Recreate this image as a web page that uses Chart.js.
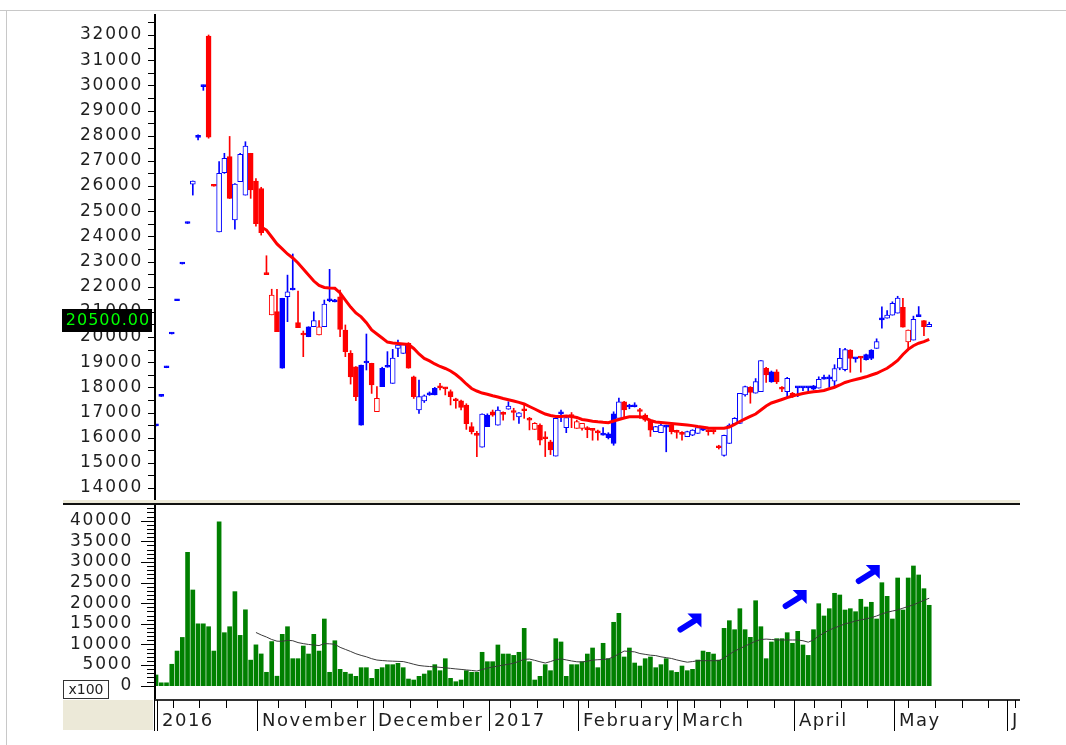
<!DOCTYPE html>
<html><head><meta charset="utf-8">
<script src="https://cdn.jsdelivr.net/npm/chart.js@4.4.1/dist/chart.umd.min.js"></script>
<style>
html,body{margin:0;padding:0;background:#fff;}
#wrap{position:relative;width:1066px;height:745px;overflow:hidden;background:#fff;}
#wrap canvas{position:absolute;left:0;top:0;}
.frameT{position:absolute;left:0;top:10px;width:1066px;height:1px;background:#c8c8c8;}
.frameL{position:absolute;left:6px;top:10px;width:1px;height:735px;background:#c8c8c8;}
</style></head><body>
<div id="wrap">
<div class="frameT"></div><div class="frameL"></div>
<canvas id="price" width="1066" height="745" style="width:1066px;height:745px"></canvas>
<canvas id="vol" width="1066" height="745" style="width:1066px;height:745px"></canvas>
</div>
<script>
// ---------------- data ----------------
const OPEN = [16470,17640,18780,20120,21440,22900,24510,26070,27930,29950,
31960,26030,24180,26530,27170,24650,26170,25640,27300,26200,
25900,22560,21670,21010,18760,21600,21870,20570,20140,20010,
20410,20410,20410,21440,21400,21600,20280,19350,18820,16500,
18970,18960,17560,18030,18800,18160,19550,19350,19750,18420,
17100,17460,17700,17700,18030,17990,17830,17530,17470,17300,
16440,16150,15620,16440,17030,16500,16990,17130,17060,16830,
17130,16760,16570,16500,16020,15840,15270,16950,16400,16900,
16640,16570,16380,16350,16250,16100,16000,15770,16770,17430,
17220,17230,17100,16900,16700,16240,16200,16420,16500,16270,
16190,16040,16100,16170,16300,16300,16300,15660,15300,15770,
16550,16570,17700,18000,17770,17830,18760,18220,18620,17990,
17830,17760,17980,17980,17980,17930,17970,18330,18340,18250,
18760,18700,19480,19130,19210,19100,19150,19550,20680,20750,
20870,20950,21180,20280,19880,20810,20650,20410];
const HIGH = [16530,17700,18840,20180,21500,22960,24570,26200,28030,30010,
32000,26030,26970,27300,27970,26100,27300,27760,27300,26300,
25950,23230,21900,21900,21540,22460,23300,21830,20240,20410,
21000,20650,21470,22690,21500,21870,20480,19460,18830,18890,
20120,18960,18030,18800,19420,19510,19880,19720,19780,18450,
18290,17700,17820,18000,18160,18000,17900,17570,17500,17350,
16600,16250,16950,16950,17100,17230,17030,17430,17170,17000,
17300,16810,16600,16550,16240,15900,16770,17100,16840,17000,
16700,16570,16440,16370,16300,16400,16200,17030,17570,17450,
17330,17390,17170,16950,16700,16450,16550,16500,16520,16300,
16240,16260,16320,16430,16370,16310,16310,15700,16100,16550,
16800,17760,18050,18030,18350,19060,18800,18650,18700,18030,
18400,17800,18020,18020,18020,18080,18420,18490,18490,18900,
19550,19550,19500,19170,19230,19320,19500,19930,21200,21050,
21400,21620,21540,20280,20830,21210,20650,20590];
const LOW = [16470,17640,18780,20120,21440,22900,24510,25640,27830,29800,
27900,25990,24180,26500,25500,24290,26170,25640,25510,24400,
24050,22480,20880,20210,18760,20610,21870,20370,19220,20010,
20410,20080,20410,21400,21400,20010,19220,18130,17470,16500,
18690,17760,17030,18030,18800,18160,19220,19350,18760,17560,
16970,17400,17680,17700,17900,17700,17300,17170,17100,16330,
16150,15250,15620,16440,16850,16500,16700,17130,16700,16570,
16770,16310,16330,15710,15250,15330,15270,16640,16200,16400,
16370,16300,16000,15900,15900,16100,15950,15700,16770,16800,
17150,17220,16770,16650,16050,16240,16200,15440,16150,15980,
15900,16040,16080,16170,16280,16100,16150,15550,15270,15770,
16550,16570,17650,17370,17770,17830,18200,18200,18150,17830,
17630,17600,17630,17870,17800,17900,17970,18330,18000,18000,
18700,18650,18600,19000,18600,19080,19100,19550,20350,20750,
20870,20950,20390,19480,19880,20810,20050,20410];
const CLOSE = [16530,17700,18840,20180,21500,22960,24570,26200,28010,30010,
27940,25990,26500,27100,25510,26080,27260,27590,25840,24500,
24150,22480,20880,20210,21540,21800,21930,20370,20080,20410,
20650,20080,21310,21500,21480,20300,19420,18420,17630,18890,
19030,18100,17030,18760,18860,19160,19680,19700,18760,17630,
17630,17660,17760,17960,17980,17940,17630,17470,17200,16560,
16240,16090,16940,16900,16900,17100,16930,17260,17000,16990,
17070,16700,16330,15900,15960,15510,16770,17010,16800,16840,
16370,16370,16320,16290,16190,16160,16150,16950,17430,17100,
17280,17290,17040,16700,16300,16440,16500,16480,16240,16210,
16130,16240,16300,16400,16360,16240,16240,15600,16090,16500,
16770,17760,18030,17800,18230,19060,18490,18620,18220,17930,
18360,17630,18020,18020,18020,18060,18320,18380,18390,18750,
19150,19500,19150,19170,19160,19300,19480,19820,20740,20870,
21340,21550,20390,19810,20700,20870,20410,20500];
const VOLUME = [2600,700,700,5200,8400,11700,32300,23200,15000,15000,
14300,8400,39700,12850,14300,22800,12200,18400,6200,9900,
7700,3250,10700,2300,12450,14300,6550,6550,9620,7680,
12450,8400,16170,3250,10900,3970,3250,2830,2270,4370,
4370,1780,3970,4370,5100,5100,5420,4370,1620,1380,
2270,2830,3640,5100,3640,6550,1780,970,1380,3640,
3250,3250,8100,5820,5820,9870,7680,7680,7350,8100,
13900,5820,1380,2270,5100,3640,11400,10600,2270,5100,
5100,5820,7680,9140,4370,10280,6550,15370,17550,6960,
9140,5500,4770,6550,6960,4370,5100,6550,3640,3250,
4770,3640,3970,6220,8400,8100,7680,6220,13900,15760,
13580,18670,13580,11730,20600,14300,6550,10600,11400,11400,
12850,10280,13180,9870,7350,13580,19880,16900,18670,22400,
21990,18350,18670,17940,20950,19080,20220,16170,24970,21670,
16170,26110,18350,26110,29020,26840,23520,19490];
const PRICE_MA = [null,null,null,null,null,null,null,null,null,null,
null,null,null,null,null,null,null,null,null,null,
24370,24250,23975,23700,23500,23300,23140,22940,22700,22465,
22225,22050,21970,21950,21935,21750,21470,21190,20955,20800,
20570,20280,20120,19960,19800,19765,19745,19725,19705,19545,
19325,19150,19050,18930,18830,18750,18650,18510,18335,18135,
17955,17855,17775,17725,17665,17620,17560,17510,17460,17405,
17340,17240,17140,17040,16940,16885,16845,16845,16865,16845,
16805,16725,16690,16655,16630,16610,16595,16665,16725,16785,
16830,16835,16835,16785,16685,16625,16605,16585,16565,16545,
16525,16505,16480,16445,16415,16385,16375,16375,16375,16425,
16530,16645,16745,16845,16940,17100,17260,17380,17450,17520,
17590,17655,17710,17755,17795,17830,17850,17875,17945,18005,
18095,18195,18260,18310,18365,18420,18490,18560,18660,18760,
18910,19070,19305,19510,19655,19755,19815,19910];
const VOLUME_MA = [null,null,null,null,null,null,null,null,null,null,
null,null,null,null,null,null,null,null,null,12900,
12300,11800,11200,10800,10750,11000,10900,10450,10200,10000,
9870,9720,10200,10150,10050,9300,8800,8300,7750,7350,
7000,6550,6220,6100,6000,5950,5900,5850,5550,5200,
4900,4750,4650,4570,4450,4330,4200,4070,3950,3820,
3700,3550,3900,4250,4550,4750,5000,5200,5450,5900,
6400,6450,6150,5800,5500,5850,6300,6500,6250,6000,
5800,5750,5950,6200,6300,6350,6500,7000,7700,8400,
8300,8200,7800,7600,7400,7300,7000,6800,6600,6250,
5950,5700,5850,6050,6060,6060,6060,6060,6700,7600,
8400,9000,9600,10200,10800,11200,11300,11200,11100,11080,
11080,11080,11080,10900,10550,11100,12050,12800,13500,14000,
14500,15000,15300,15700,15950,16200,16500,16900,17400,17800,
18100,18350,18800,19200,19600,20150,20700,21200];
const SOLID_UP = [24,29,39,43,53,63,86,87,117,125,135,136];
const HOLLOW_DOWN = [22,31,42,72,80,81,143];
const PRICE_TICKS = [14000,15000,16000,17000,18000,19000,20000,21000,22000,23000,24000,25000,26000,27000,28000,29000,30000,31000,32000];
const VOLUME_TICKS = [0,5000,10000,15000,20000,25000,30000,35000,40000];
const MONTH_LABELS = ['2016','November','December','2017','February','March','April','May','J'];
const MONTH_POS = [0.1,19.2,41.3,63.4,80.2,99.0,121.3,140.3,161.7];
const WEEK_POS = [3.3,8.2,13.3,23.2,28.3,33.3,38.3,43.2,48.3,53.4,58.3,67.3,72.4,77.3,82.2,87.3,92.3,97.2,102.3,107.2,112.3,117.4,125.1,130.2,135.2,143.0,148.1,153.2,158.2,163.3];
const ARROW_AT = [[103.7,17500],[123.7,23200],[137.6,29260]];
const LAST_PRICE = 20500;

// ---------------- styling ----------------
const BLUE = '#0000ff', RED = '#ff0000', GREEN = '#008000', TXT = '#1e1e1e';
const FONT = '"DejaVu Sans"';
const X_MIN = -0.19, X_MAX = 164.26;
const idx = CLOSE.map((_, i) => i);
const up = i => CLOSE[i] >= OPEN[i];
const col = idx.map(i => up(i) ? BLUE : RED);
const solid = i => Math.abs(CLOSE[i] - OPEN[i]) < 90 || (up(i) ? SOLID_UP.includes(i) : !HOLLOW_DOWN.includes(i));
const bodyBg = idx.map(i => solid(i) ? col[i] : '#ffffff');

const priceDecor = {
  id: 'priceDecor',
  beforeDraw(chart) { chart.ctx.letterSpacing = '1.8px'; },
  afterDraw(chart) {
    const ctx = chart.ctx, ys = chart.scales.y, a = chart.chartArea;
    ctx.save();
    ctx.letterSpacing = '0px';
    ctx.fillStyle = '#000';
    ctx.fillRect(a.left - 1, 14, 2, a.bottom - 14);
    for (let v = 13500; v <= 33000; v += 500) {
      const py = Math.round(ys.getPixelForValue(v));
      if (py < 14 || py > a.bottom) continue;
      ctx.fillRect(a.left - 7, py, 6, 1);
    }
    const ly = Math.round(ys.getPixelForValue(LAST_PRICE));
    ctx.fillStyle = '#000';
    ctx.fillRect(62, ly - 15, 90, 23);
    ctx.fillStyle = '#00ff00';
    ctx.font = '16px ' + FONT;
    ctx.textAlign = 'center'; ctx.textBaseline = 'middle';
    ctx.letterSpacing = '1px';
    ctx.fillText(LAST_PRICE.toFixed(2), 108, ly - 3);
    ctx.restore();
  }
};

function drawArrow(ctx, tx, ty) {
  ctx.save();
  ctx.fillStyle = BLUE; ctx.strokeStyle = BLUE;
  ctx.beginPath(); ctx.moveTo(tx, ty); ctx.lineTo(tx - 14, ty); ctx.lineTo(tx, ty + 14); ctx.closePath(); ctx.fill();
  ctx.lineWidth = 6; ctx.lineCap = 'round';
  ctx.beginPath(); ctx.moveTo(tx - 5, ty + 6); ctx.lineTo(tx - 21, ty + 16); ctx.stroke();
  ctx.restore();
}

const volDecor = {
  id: 'volDecor',
  beforeDraw(chart) { chart.ctx.letterSpacing = '1.8px'; },
  afterDraw(chart) {
    const ctx = chart.ctx, xs = chart.scales.x, ys = chart.scales.y, a = chart.chartArea;
    ctx.save();
    ctx.letterSpacing = '0px';
    // panel separator
    ctx.fillStyle = '#ece9d8'; ctx.fillRect(63, 500, a.right - 63, 3);
    ctx.fillStyle = '#111'; ctx.fillRect(63, 503, a.right - 63, 2);
    // y axis
    ctx.fillStyle = '#000';
    ctx.fillRect(a.left - 1, 505, 2, a.bottom - 505 + 2);
    for (let v = 0; v <= 43000; v += 1000) {
      const py = Math.round(ys.getPixelForValue(v));
      if (py < a.top) continue;
      const len = v % 5000 === 0 ? 13 : 7;
      ctx.fillRect(a.left - 1 - len, py, len, 1);
    }
    // x axis
    ctx.fillStyle = '#333';
    ctx.fillRect(a.left, a.bottom, a.right - a.left, 2);
    ctx.fillStyle = '#ece9d8'; ctx.fillRect(63, a.bottom + 1, 90, 30);
    ctx.fillStyle = '#000';
    WEEK_POS.forEach(p => {
      const px = Math.round(xs.getPixelForValue(p));
      ctx.fillRect(px, a.bottom + 1, 1, 8);
    });
    ctx.font = '18px ' + FONT;
    ctx.textAlign = 'left'; ctx.textBaseline = 'alphabetic';
    MONTH_POS.forEach((p, k) => {
      const px = Math.round(xs.getPixelForValue(p));
      ctx.fillStyle = '#000';
      ctx.fillRect(px, a.bottom + 1, 1, 31);
      if (k === 0) ctx.fillRect(a.left - 1, a.bottom + 1, 1, 31);
      ctx.fillStyle = TXT;
      ctx.letterSpacing = '1.5px';
      ctx.fillText(MONTH_LABELS[k], px + 5, a.bottom + 27);
      ctx.letterSpacing = '0px';
    });
    // x100 box
    ctx.fillStyle = '#fff'; ctx.fillRect(63, 680, 46, 19);
    ctx.strokeStyle = '#333'; ctx.lineWidth = 1; ctx.strokeRect(63.5, 680.5, 45, 18);
    ctx.fillStyle = TXT; ctx.font = '14px ' + FONT; ctx.textAlign = 'center'; ctx.textBaseline = 'middle';
    ctx.fillText('x100', 86, 690);
    // annotation arrows
    ARROW_AT.forEach(([xi, vv]) => drawArrow(ctx, xs.getPixelForValue(xi), ys.getPixelForValue(vv)));
    ctx.restore();
  }
};

const common = {
  responsive: false, animation: false, devicePixelRatio: 1,
  plugins: { legend: { display: false }, tooltip: { enabled: false } }
};

new Chart(document.getElementById('price'), {
  type: 'bar',
  data: { datasets: [
    { type: 'line', data: idx.map(i => ({ x: i, y: PRICE_MA[i] })), borderColor: RED, borderWidth: 3,
      pointRadius: 0, tension: 0, order: 0 },
    { type: 'bar', data: idx.map(i => ({ x: i, y: [OPEN[i], CLOSE[i]] })), backgroundColor: bodyBg,
      borderColor: col, borderWidth: 1, borderSkipped: false, barThickness: 5, grouped: false,
      minBarLength: 2, order: 1 },
    { type: 'bar', data: idx.map(i => ({ x: i, y: [LOW[i], HIGH[i]] })), backgroundColor: col,
      borderWidth: 0, barThickness: 1, grouped: false, order: 2 }
  ]},
  options: Object.assign({}, common, {
    layout: { padding: { left: 0, right: 46, top: 24, bottom: 242 } },
    scales: {
      x: { type: 'linear', min: X_MIN, max: X_MAX, offset: false, display: false },
      y: { type: 'linear', position: 'left', min: 13406, max: 32437,
        afterFit: s => { s.width = 155; },
        afterBuildTicks: s => { s.ticks = PRICE_TICKS.map(v => ({ value: v })); },
        grid: { display: false, drawTicks: false }, border: { display: false },
        ticks: { autoSkip: false, padding: 12, color: TXT, font: { family: 'DejaVu Sans', size: 17 },
          callback: v => String(v) } }
    }
  }),
  plugins: [priceDecor]
});

new Chart(document.getElementById('vol'), {
  type: 'bar',
  data: { datasets: [
    { type: 'line', data: idx.map(i => ({ x: i, y: VOLUME_MA[i] })), borderColor: '#3a3a3a', borderWidth: 1,
      pointRadius: 0, tension: 0, order: 0 },
    { type: 'bar', data: idx.map(i => ({ x: i, y: VOLUME[i] })), backgroundColor: GREEN,
      borderWidth: 0, barThickness: 4, grouped: false, order: 1 }
  ]},
  options: Object.assign({}, common, {
    layout: { padding: { left: 0, right: 46, top: 506, bottom: 46 } },
    scales: {
      x: { type: 'linear', min: X_MIN, max: X_MAX, offset: false, display: false },
      y: { type: 'linear', position: 'left', min: -3224, max: 43560,
        afterFit: s => { s.width = 155; },
        afterBuildTicks: s => { s.ticks = VOLUME_TICKS.map(v => ({ value: v })); },
        grid: { display: false, drawTicks: false }, border: { display: false },
        ticks: { autoSkip: false, padding: 22, color: TXT, font: { family: 'DejaVu Sans', size: 17 },
          callback: v => String(v) } }
    }
  }),
  plugins: [volDecor]
});
</script>
</body></html>
